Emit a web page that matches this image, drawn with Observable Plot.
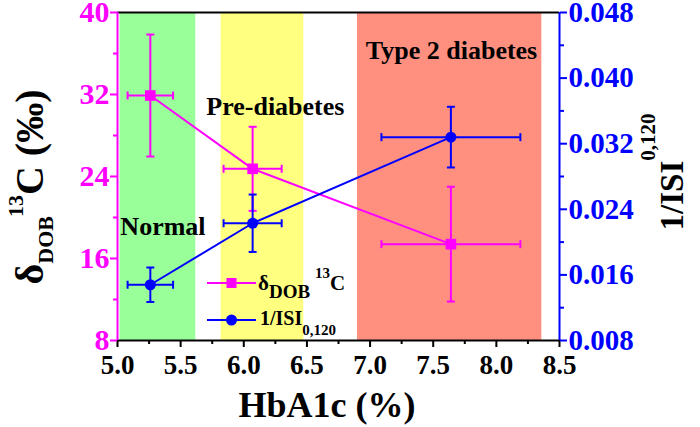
<!DOCTYPE html>
<html><head><meta charset="utf-8">
<script src="https://cdn.jsdelivr.net/npm/d3@7"></script>
<script src="https://cdn.jsdelivr.net/npm/@observablehq/plot@0.6"></script>
<style>
body{margin:0;background:#fff;}
#wrap{position:relative;width:700px;height:427px;}
#wrap svg{position:absolute;left:0;top:0;}
#wrap svg, #wrap svg text{font-family:'Liberation Serif','Times New Roman',Tinos,'DejaVu Serif',serif !important;font-weight:bold;}
</style></head><body><div id="wrap"></div>
<script>
// ---- data ----
const hba1c = [5.26, 6.07, 7.64];
const hba1cErr = [0.18, 0.23, 0.55];
const delta13C = [31.9, 24.75, 17.4];
const delta13CErr = [5.95, 4.1, 5.6];
const invISI = [0.0148, 0.0223, 0.0328];
const invISIErr = [0.0021, 0.0035, 0.0037];

const bandNames = ["Normal", "Pre-diabetes", "Type 2 diabetes"];
const bandStart = [5.02, 5.82, 6.90];
const bandEnd = [5.62, 6.475, 8.36];
const bandColors = ["#99ff99", "#ffff80", "#ff9080"];
const labelX = [5.36, 6.25, 7.645];
const labelY = [19.1, 30.8, 36.3];

const xDomain = [5.0, 8.5];
const xTicks = [5.0, 5.5, 6.0, 6.5, 7.0, 7.5, 8.0, 8.5];
const xMinor = [5.25, 5.75, 6.25, 6.75, 7.25, 7.75, 8.25];
const leftDomain = [8, 40];
const leftTicks = [8, 16, 24, 32, 40];
const leftMinor = [12, 20, 28, 36];
const rightDomain = [0.008, 0.048];
const rightTicks = [0.008, 0.016, 0.024, 0.032, 0.040, 0.048];
const rightMinor = [0.012, 0.020, 0.028, 0.036, 0.044];

const MAG = "#ff00ff", BLUE = "#0000ff";
const toLeft = v => leftDomain[0] + (v - rightDomain[0]) / (rightDomain[1] - rightDomain[0]) * (leftDomain[1] - leftDomain[0]);
const fromLeft = v => rightDomain[0] + (v - leftDomain[0]) / (leftDomain[1] - leftDomain[0]) * (rightDomain[1] - rightDomain[0]);

const pts = hba1c.map((x, i) => ({
  x, xe: hba1cErr[i],
  m: delta13C[i], me: delta13CErr[i],
  b: toLeft(invISI[i]), bTop: toLeft(invISI[i] + invISIErr[i]), bBot: toLeft(invISI[i] - invISIErr[i])
}));
const bands = bandNames.map((n, i) => ({name: n, x1: bandStart[i], x2: bandEnd[i], color: bandColors[i], lx: labelX[i], ly: labelY[i]}));

const hCap = {draw(ctx, size) {const r = Math.sqrt(size / Math.PI); ctx.moveTo(-r, 0); ctx.lineTo(r, 0);}};
const vCap = {draw(ctx, size) {const r = Math.sqrt(size / Math.PI); ctx.moveTo(0, -r); ctx.lineTo(0, r);}};

function errMarks(yKey, yLo, yHi, color) {
  return [
    Plot.ruleX(pts, {x: "x", y1: yLo, y2: yHi, stroke: color, strokeWidth: 2}),
    Plot.ruleY(pts, {y: yKey, x1: d => d.x - d.xe, x2: d => d.x + d.xe, stroke: color, strokeWidth: 2}),
    Plot.dot(pts, {x: "x", y: yLo, symbol: hCap, r: 4, stroke: color, strokeWidth: 2, fill: "none"}),
    Plot.dot(pts, {x: "x", y: yHi, symbol: hCap, r: 4, stroke: color, strokeWidth: 2, fill: "none"}),
    Plot.dot(pts, {x: d => d.x - d.xe, y: yKey, symbol: vCap, r: 4, stroke: color, strokeWidth: 2, fill: "none"}),
    Plot.dot(pts, {x: d => d.x + d.xe, y: yKey, symbol: vCap, r: 4, stroke: color, strokeWidth: 2, fill: "none"})
  ];
}

const font = "'Liberation Serif','Times New Roman',Tinos,'DejaVu Serif',serif";
const chart = Plot.plot({
  width: 700, height: 427,
  marginLeft: 117, marginRight: 141, marginTop: 12, marginBottom: 87,
  x: {domain: xDomain},
  y: {domain: leftDomain},
  color: {type: "identity"},
  style: {fontFamily: font, fontWeight: "bold", background: "transparent", overflow: "visible"},
  marks: [
    Plot.rect(bands, {x1: "x1", x2: "x2", fill: "color"}),
    // magenta series
    ...errMarks("m", d => d.m - d.me, d => d.m + d.me, MAG),
    Plot.line(pts, {x: "x", y: "m", stroke: MAG, strokeWidth: 2}),
    Plot.dot(pts, {x: "x", y: "m", symbol: "square", r: 6, fill: MAG}),
    // blue series
    ...errMarks("b", "bBot", "bTop", BLUE),
    Plot.line(pts, {x: "x", y: "b", stroke: BLUE, strokeWidth: 2}),
    Plot.dot(pts, {x: "x", y: "b", r: 5.5, fill: BLUE}),
    // region labels
    Plot.text(bands, {x: "lx", y: "ly", text: "name", fontSize: 26, fontWeight: "bold", fill: "black"}),
    // axis lines
    Plot.ruleY([leftDomain[1]], {stroke: "black", strokeWidth: 2}),
    Plot.ruleY([leftDomain[0]], {stroke: "black", strokeWidth: 2}),
    Plot.ruleX([xDomain[0]], {stroke: MAG, strokeWidth: 2}),
    Plot.ruleX([xDomain[1]], {stroke: BLUE, strokeWidth: 2}),
    // axes
    Plot.axisX({ticks: xTicks, tickSize: 7, tickPadding: 7, tickFormat: d3.format(".1f"), fontSize: 27, fontWeight: "bold", color: "black", strokeWidth: 2, label: null}),
    Plot.axisX({ticks: xMinor, tickSize: 4, tickFormat: () => "", color: "black", strokeWidth: 2, label: null}),
    Plot.axisY({ticks: leftTicks, tickSize: 7, tickPadding: 1, fontSize: 30, fontWeight: "bold", color: MAG, strokeWidth: 2, label: null}),
    Plot.axisY({ticks: leftMinor, tickSize: 4, tickFormat: () => "", color: MAG, strokeWidth: 2, label: null}),
    Plot.axisY({anchor: "right", ticks: rightTicks.map(toLeft), tickFormat: d => d3.format(".3f")(fromLeft(d)), tickSize: 7, tickPadding: 2, fontSize: 29, fontWeight: "bold", color: BLUE, strokeWidth: 2, label: null}),
    Plot.axisY({anchor: "right", ticks: rightMinor.map(toLeft), tickSize: 4, tickFormat: () => "", color: BLUE, strokeWidth: 2, label: null})
  ]
});
const wrap = document.getElementById("wrap");
wrap.appendChild(chart);

// ---- titles and legend overlay ----
const ns = "http://www.w3.org/2000/svg";
const ov = document.createElementNS(ns, "svg");
ov.setAttribute("width", 700); ov.setAttribute("height", 427);
ov.innerHTML = `
<text x="327" y="417" text-anchor="middle" font-size="36" fill="black">HbA1c (%)</text>
<text transform="translate(43,187) rotate(-90)" text-anchor="middle" font-size="40" fill="black">δ<tspan font-size="22" dy="10">DOB</tspan><tspan font-size="22" dy="-30" dx="-1">13</tspan><tspan dy="20">C (‰)</tspan></text>
<text transform="translate(683,172) rotate(-90)" text-anchor="middle" font-size="33" fill="black">1/ISI<tspan font-size="21" dy="-28">0,120</tspan></text>
<g>
  <line x1="207" x2="256" y1="283" y2="283" stroke="${MAG}" stroke-width="2"/>
  <rect x="226.5" y="278" width="10" height="10" fill="${MAG}"/>
  <text x="258" y="290" font-size="21" fill="black">δ<tspan font-size="19" dy="8">DOB</tspan><tspan font-size="15" dy="-20" dx="5">13</tspan><tspan font-size="21" dy="12">C</tspan></text>
  <line x1="207" x2="256" y1="320" y2="320" stroke="${BLUE}" stroke-width="2"/>
  <circle cx="231.5" cy="320" r="5.5" fill="${BLUE}"/>
  <text x="260" y="325" font-size="20" fill="black">1/ISI<tspan font-size="15" dy="10">0,120</tspan></text>
</g>`;
wrap.appendChild(ov);
</script>
</body></html>
